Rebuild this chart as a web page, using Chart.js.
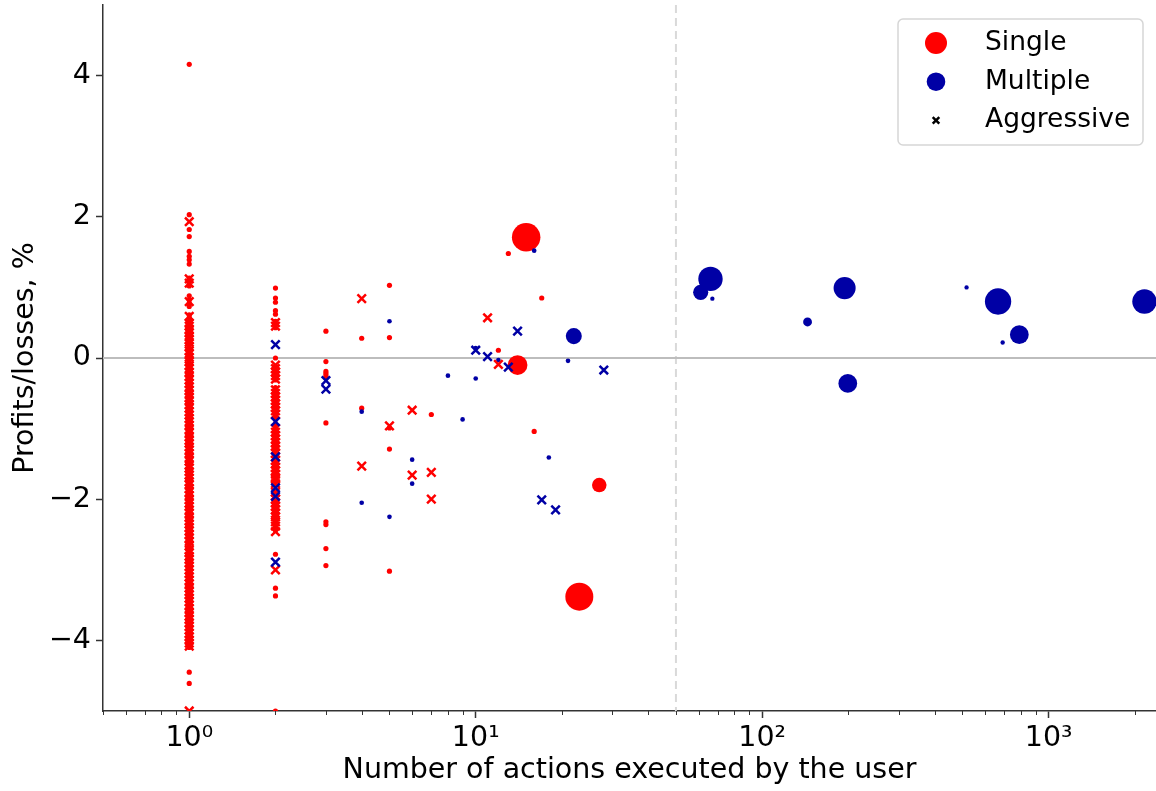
<!DOCTYPE html>
<html>
<head>
<meta charset="utf-8">
<script src="https://cdn.jsdelivr.net/npm/chart.js@4.4.1/dist/chart.umd.min.js"></script>
<style>
  html, body { margin: 0; padding: 0; background: #fff; }
  canvas { display: block; }
</style>
</head>
<body>
<canvas id="chart" width="1156" height="791"></canvas>
<script>
'use strict';
// ── Data ───────────────────────────────────────────────────────────────────
// users with a single action (all "Single"), profit/loss in %
const oneSingle = [
  4.16, 2.03, 1.82, 1.72, 1.51, 1.44, 1.39, 1.33, 1.13, 1.1, 1.08, 1.05, 1.02,
  0.88, 0.82, 0.77, 0.73, 0.61, 0.57, 0.52,
  0.46, 0.43, 0.39, 0.36, 0.34, 0.3, 0.27, 0.24, 0.2, 0.18, 0.14, 0.11, 0.07,
  0.05, 0.01, -0.02, -0.06, -0.08, -0.12, -0.16, -0.18, -0.22, -0.25, -0.29,
  -0.31, -0.35, -0.38, -0.42, -0.45, -0.48, -0.52, -0.55, -0.59, -0.62, -0.65,
  -0.69, -0.72, -0.76, -0.79, -0.83, -0.86, -0.9, -0.93, -0.97, -1.01, -1.04,
  -1.08, -1.11, -1.15, -1.18, -1.21, -1.25, -1.28, -1.32, -1.35, -1.39, -1.42,
  -1.46, -1.5, -1.53, -1.57, -1.6, -1.63, -1.67, -1.71, -1.74, -1.78, -1.81,
  -1.85, -1.88, -1.92, -1.95, -1.99, -2.02, -2.06, -2.09, -2.13, -2.16, -2.2,
  -2.24, -2.27, -2.31, -2.34, -2.38, -2.41, -2.45, -2.48, -2.52, -2.55, -2.59,
  -2.62, -2.67, -2.71, -2.74, -2.78, -2.81, -2.85, -2.88, -2.92, -2.96, -2.99,
  -3.03, -3.06, -3.1, -3.13, -3.17, -3.2, -3.24, -3.28, -3.31, -3.35, -3.38,
  -3.42, -3.45, -3.49, -3.52, -3.56, -3.6, -3.63, -3.67, -3.7, -3.74, -3.77,
  -3.81, -3.84, -3.88, -3.92, -3.95, -3.99, -4.02, -4.06, -4.1,
  -4.45, -4.61,
];
const oneAggr = [
  1.93, 1.12, 1.06, 0.8, 0.59, 0.49, 0.45, 0.41, 0.36, 0.3, 0.26, 0.22, 0.16,
  0.1, 0.06, 0.01, -0.05, -0.11, -0.15, -0.2, -0.26, -0.31, -0.36, -0.41,
  -0.46, -0.52, -0.56, -0.6, -0.66, -0.71, -0.76, -0.81, -0.86, -0.9, -0.95,
  -1.01, -1.06, -1.12, -1.17, -1.21, -1.26, -1.3, -1.35, -1.41, -1.46, -1.52,
  -1.56, -1.61, -1.66, -1.7, -1.75, -1.79, -1.85, -1.9, -1.95, -2.01, -2.06,
  -2.1, -2.15, -2.2, -2.26, -2.31, -2.35, -2.4, -2.45, -2.5, -2.55, -2.6,
  -2.66, -2.72, -2.76, -2.81, -2.85, -2.9, -2.95, -3.0, -3.05, -3.1, -3.15,
  -3.2, -3.26, -3.31, -3.35, -3.4, -3.45, -3.5, -3.55, -3.61, -3.66, -3.7,
  -3.75, -3.8, -3.85, -3.9, -3.95, -4.0, -4.04, -4.08, -5.0,
];

// users with two actions
const twoSingle = [
  0.99, 0.85, 0.79, 0.67, 0.62, 0.52, 0.48, 0.43, 0.0, -0.12, -0.17, -0.22,
  -0.27, -0.31, -0.42, -0.46, -0.5, -0.55, -0.59, -0.63, -0.67, -0.71, -0.75,
  -0.79, -0.83, -0.87, -0.95, -1.0, -1.04, -1.08, -1.12, -1.16, -1.2, -1.24,
  -1.28, -1.32, -1.36, -1.44, -1.48, -1.52, -1.56, -1.6, -1.64, -1.68, -1.72,
  -1.76, -1.8, -1.9, -2.0, -2.04, -2.08, -2.12, -2.16, -2.2, -2.24, -2.28,
  -2.32, -2.36, -2.4, -2.44, -2.78, -3.26, -3.37, -5.0,
];
const twoAggrSingle = [
  0.5, 0.45, -0.1, -0.15, -0.2, -0.25, -0.3, -0.45, -0.5, -0.55, -0.6, -0.65,
  -0.7, -0.75, -0.8, -1.0, -1.05, -1.1, -1.15, -1.2, -1.25, -1.3, -1.35,
  -1.45, -1.5, -1.55, -1.6, -1.65, -1.7, -1.72, -1.78, -1.9, -2.0, -2.05,
  -2.1, -2.15, -2.2, -2.25, -2.32, -2.38, -2.46, -3.0,
];
const twoAggrMulti = [0.19, -0.9, -1.4, -1.84, -1.96, -2.89];

// everyone else: [actions, profit %, traded volume]
const restSingle = [
  [3, 0.38, 1], [3, -0.05, 1], [3, -0.19, 1], [3, -0.22, 1], [3, -0.25, 1],
  [3, -0.28, 1], [3, -0.92, 1], [3, -2.32, 1], [3, -2.36, 1], [3, -2.7, 1],
  [3, -2.94, 1], [4, 0.28, 1], [4, -0.71, 1], [5, 1.03, 1], [5, 0.29, 1],
  [5, -0.99, 1], [5, -1.29, 1], [5, -3.02, 1], [7, -0.8, 1], [12, 0.11, 1],
  [13, 1.48, 1], [14, -0.1, 14.4], [15, 1.71, 30], [16, -1.04, 1],
  [17, 0.85, 1], [23, -3.38, 29], [27, -1.8, 7.8],
];
const restMulti = [
  [4, -0.76, 0.8], [4, -2.05, 0.8], [5, 0.52, 0.8], [5, -2.25, 0.8],
  [6, -1.44, 0.8], [6, -1.78, 0.8], [8, -0.25, 0.8], [9, -0.87, 0.8],
  [10, 0.14, 0.8], [10, -0.29, 0.8], [12, -0.03, 0.8], [16, 1.52, 0.8],
  [18, -1.41, 0.8], [21, -0.04, 0.8], [22, 0.31, 9.5], [61, 0.93, 8.5],
  [66, 1.12, 22], [67, 0.84, 0.7], [144, 0.51, 2.9], [194, 0.99, 18],
  [199, -0.36, 13], [517, 1.0, 0.7], [666, 0.8, 25.6], [691, 0.22, 0.7],
  [790, 0.33, 13], [2160, 0.8, 22],
];
const restAggrSingle = [
  [4, 0.84], [4, -1.53], [5, -0.96], [6, -0.74], [6, -1.66], [7, -1.62],
  [7, -2.0], [11, 0.57], [12, -0.09],
];
const restAggrMulti = [
  [3, -0.32], [3, -0.44], [10, 0.11], [11, 0.02], [13, -0.13], [14, 0.38],
  [17, -2.01], [19, -2.15], [28, -0.17],
];

const X_MIN = 0.5, X_MAX = 2370;
const Y_MIN = -5, Y_MAX = 5;
const X_MAJOR = [1, 10, 100, 1000];
const X_MINOR = [0.5, 0.6, 0.7, 0.8, 0.9, 2, 3, 4, 5, 6, 7, 8, 9,
                 20, 30, 40, 50, 60, 70, 80, 90,
                 200, 300, 400, 500, 600, 700, 800, 900, 2000];
const Y_TICKS = [-4, -2, 0, 2, 4];
const THRESHOLD = 50;   // dashed split between single / multiple users

// ── Styling ────────────────────────────────────────────────────────────────
Chart.defaults.font.family = "'DejaVu Sans', sans-serif";
Chart.defaults.color = '#000';
const RED  = '#ff0000';
const BLUE = '#0000a5';
const AXIS = '#333333';
const FONT = 28.5;
const SUP  = { 0: '\u2070', 1: '\u00b9', 2: '\u00b2', 3: '\u00b3' };

const pt = (x, y, v = 1) => ({ x, y, v });
const singlePts = [
  ...oneSingle.map(y => pt(1, y)),
  ...twoSingle.map(y => pt(2, y)),
  ...restSingle.map(([x, y, v]) => pt(x, y, v)),
];
const multiPts = restMulti.map(([x, y, v]) => pt(x, y, v));
const aggrSinglePts = [
  ...oneAggr.map(y => pt(1, y)),
  ...twoAggrSingle.map(y => pt(2, y)),
  ...restAggrSingle.map(([x, y]) => pt(x, y)),
];
const aggrMultiPts = [
  ...twoAggrMulti.map(y => pt(2, y)),
  ...restAggrMulti.map(([x, y]) => pt(x, y)),
];

const volRadius = ctx => 2.6 * Math.sqrt(ctx.raw ? ctx.raw.v : 1);

// ── Plugins ────────────────────────────────────────────────────────────────
const refLines = {
  id: 'refLines',
  beforeDatasetsDraw(chart) {
    const { ctx, chartArea: a, scales: { x, y } } = chart;
    ctx.save();
    ctx.lineWidth = 2;
    ctx.strokeStyle = '#d9d9d9';
    ctx.setLineDash([8, 5]);
    const px = x.getPixelForValue(THRESHOLD);
    ctx.beginPath(); ctx.moveTo(px, a.top); ctx.lineTo(px, a.bottom); ctx.stroke();
    ctx.setLineDash([]);
    ctx.strokeStyle = '#bdbdbd';
    const py = y.getPixelForValue(0);
    ctx.beginPath(); ctx.moveTo(a.left, py); ctx.lineTo(a.right, py); ctx.stroke();
    ctx.restore();
  }
};

const minorTicks = {
  id: 'minorTicks',
  afterDraw(chart) {
    const { ctx, chartArea: a, scales: { x } } = chart;
    ctx.save();
    ctx.strokeStyle = AXIS;
    ctx.lineWidth = 1;
    X_MINOR.forEach(v => {
      const px = Math.round(x.getPixelForValue(v)) + 0.5;
      ctx.beginPath(); ctx.moveTo(px, a.bottom); ctx.lineTo(px, a.bottom + 4); ctx.stroke();
    });
    ctx.restore();
  }
};

function roundRect(ctx, x, y, w, h, r) {
  ctx.beginPath();
  ctx.moveTo(x + r, y);
  ctx.lineTo(x + w - r, y); ctx.arcTo(x + w, y, x + w, y + r, r);
  ctx.lineTo(x + w, y + h - r); ctx.arcTo(x + w, y + h, x + w - r, y + h, r);
  ctx.lineTo(x + r, y + h); ctx.arcTo(x, y + h, x, y + h - r, r);
  ctx.lineTo(x, y + r); ctx.arcTo(x, y, x + r, y, r);
  ctx.closePath();
}

const legendBox = {
  id: 'legendBox',
  afterDraw(chart) {
    const { ctx, chartArea: a } = chart;
    const w = 245, h = 126;
    const x0 = a.right - 13 - w, y0 = a.top + 14;
    ctx.save();
    roundRect(ctx, x0, y0, w, h, 5);
    ctx.fillStyle = 'rgba(255,255,255,0.8)';
    ctx.fill();
    ctx.lineWidth = 1.5;
    ctx.strokeStyle = '#d6d6d6';
    ctx.stroke();

    const rows = [
      { text: 'Single',     color: RED,    kind: 'dot',   r: 11 },
      { text: 'Multiple',   color: BLUE,   kind: 'dot',   r: 9.3 },
      { text: 'Aggressive', color: '#000', kind: 'cross', r: 3.3 },
    ];
    ctx.font = "26.5px 'DejaVu Sans'";
    ctx.textBaseline = 'middle';
    ctx.textAlign = 'left';
    rows.forEach((row, i) => {
      const cx = x0 + 38, cy = y0 + 24 + i * 38.7;
      if (row.kind === 'dot') {
        ctx.fillStyle = row.color;
        ctx.beginPath(); ctx.arc(cx, cy, row.r, 0, Math.PI * 2); ctx.fill();
      } else {
        ctx.strokeStyle = row.color;
        ctx.lineWidth = 2.5;
        ctx.beginPath();
        ctx.moveTo(cx - row.r, cy - row.r); ctx.lineTo(cx + row.r, cy + row.r);
        ctx.moveTo(cx - row.r, cy + row.r); ctx.lineTo(cx + row.r, cy - row.r);
        ctx.stroke();
      }
      ctx.fillStyle = '#000';
      ctx.fillText(row.text, x0 + 87, cy);
    });
    ctx.restore();
  }
};

// ── Chart ──────────────────────────────────────────────────────────────────
const dotSet = (label, data, color, order) => ({
  label, data, order,
  pointStyle: 'circle',
  pointRadius: volRadius, pointHoverRadius: volRadius,
  pointBackgroundColor: color, pointBorderColor: color, pointBorderWidth: 0,
});
const crossSet = (label, data, color, order) => ({
  label, data, order,
  pointStyle: 'crossRot',
  pointRadius: 6, pointHoverRadius: 6,
  pointBackgroundColor: color, pointBorderColor: color, pointBorderWidth: 2.5,
});

new Chart(document.getElementById('chart'), {
  type: 'scatter',
  data: {
    datasets: [
      dotSet('Single', singlePts, RED, 4),
      dotSet('Multiple', multiPts, BLUE, 3),
      crossSet('Aggressive', aggrSinglePts, RED, 2),
      crossSet('Aggressive', aggrMultiPts, BLUE, 1),
    ]
  },
  options: {
    animation: false,
    responsive: false,
    devicePixelRatio: 1,
    events: [],
    layout: { autoPadding: false, padding: { top: 5, right: 0, bottom: 0, left: 0 } },
    plugins: { legend: { display: false }, tooltip: { enabled: false } },
    scales: {
      x: {
        type: 'logarithmic', min: X_MIN, max: X_MAX,
        afterBuildTicks: s => { s.ticks = X_MAJOR.map(v => ({ value: v })); },
        afterFit: s => { s.height = 80; s.paddingLeft = 0; s.paddingRight = 0; },
        ticks: {
          callback: v => '10' + SUP[Math.round(Math.log10(v))],
          font: { size: FONT }, color: '#000', padding: 3,
          maxRotation: 0, autoSkip: false,
        },
        grid: { drawOnChartArea: false, drawTicks: true, tickLength: 7, tickColor: AXIS, tickWidth: 1.5 },
        border: { display: true, color: AXIS, width: 1.5 },
        title: {
          display: true, text: 'Number of actions executed by the user',
          font: { size: FONT }, color: '#000', padding: { top: 0, bottom: 3 },
        },
      },
      y: {
        min: Y_MIN, max: Y_MAX,
        afterBuildTicks: s => { s.ticks = Y_TICKS.map(v => ({ value: v })); },
        afterFit: s => { s.width = 103; s.paddingTop = 0; s.paddingBottom = 0; },
        ticks: {
          callback: v => v < 0 ? '\u2212' + (-v) : String(v),
          font: { size: FONT }, color: '#000', padding: 5,
        },
        grid: { drawOnChartArea: false, drawTicks: true, tickLength: 7, tickColor: AXIS, tickWidth: 1.5 },
        border: { display: true, color: AXIS, width: 1.5 },
        title: {
          display: true, text: 'Profits/losses, %',
          font: { size: FONT }, color: '#000', padding: { top: 8, bottom: 0 },
        },
      },
    },
  },
  plugins: [refLines, minorTicks, legendBox],
});
</script>
</body>
</html>
